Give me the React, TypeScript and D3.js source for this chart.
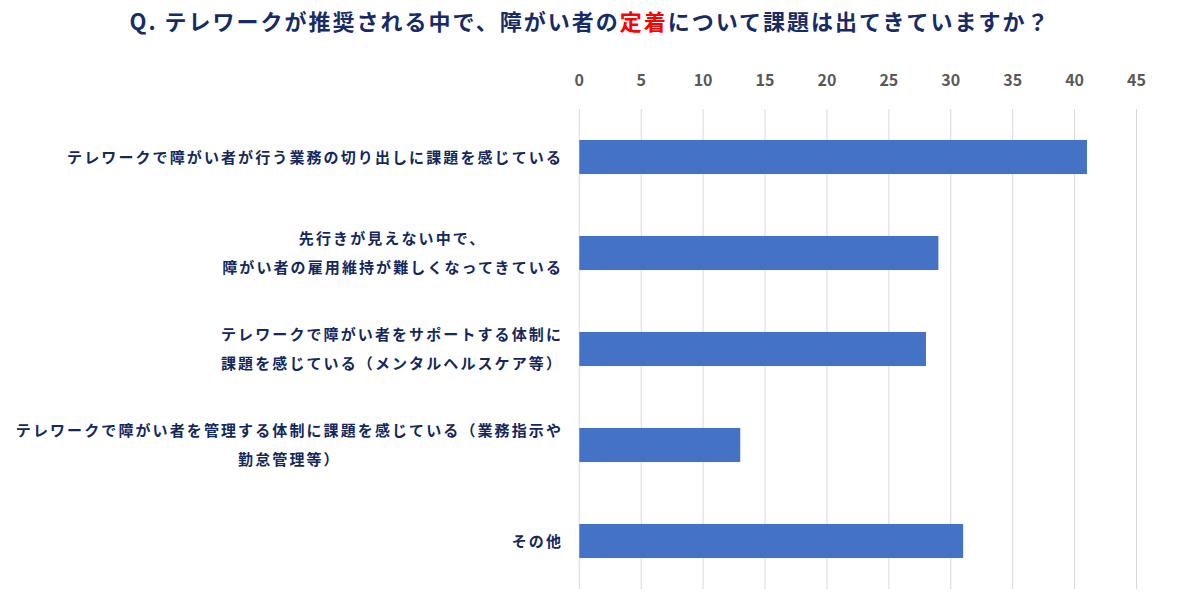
import React, { useEffect, useRef } from "react";
import * as d3 from "d3";

const categories: string[][] = [
  ["テレワークで障がい者が行う業務の切り出しに課題を感じている"],
  ["先行きが見えない中で、", "障がい者の雇用維持が難しくなってきている"],
  ["テレワークで障がい者をサポートする体制に", "課題を感じている（メンタルヘルスケア等）"],
  ["テレワークで障がい者を管理する体制に課題を感じている（業務指示や", "勤怠管理等）"],
  ["その他"],
];
const values: number[] = [41, 29, 28, 13, 31];
const tickValues: number[] = [0, 5, 10, 15, 20, 25, 30, 35, 40, 45];
const titleParts: { text: string; red: boolean }[] = [
  { text: "Q. テレワークが推奨される中で、障がい者の", red: false },
  { text: "定着", red: true },
  { text: "について課題は出てきていますか？", red: false },
];

const W = 1195;
const H = 604;
const FONT = "'Noto Sans CJK JP', 'Noto Sans', sans-serif";
const NAVY = "#13285c";

export default function App() {
  const ref = useRef<SVGSVGElement | null>(null);

  useEffect(() => {
    const svg = d3.select(ref.current);
    svg.selectAll("*").remove();

    const x = d3.scaleLinear().domain([0, 45]).range([579.3, 1136.5]);
    const y = d3
      .scaleBand<number>()
      .domain(values.map((_, i) => i))
      .range([109, 589])
      .paddingInner(0.645)
      .paddingOuter(0.3225);

    // title
    const title = svg
      .append("text")
      .attr("x", 590)
      .attr("y", 30)
      .attr("text-anchor", "middle")
      .attr("font-family", FONT)
      .attr("font-weight", 700)
      .attr("font-size", 22)
      .attr("letter-spacing", 2)
      .attr("fill", "#172c66");
    titleParts.forEach((p) => {
      title
        .append("tspan")
        .attr("fill", p.red ? "#ff0000" : "#172c66")
        .text(p.text);
    });

    // gridlines
    svg
      .append("g")
      .selectAll("line")
      .data(tickValues)
      .join("line")
      .attr("x1", (d) => x(d))
      .attr("x2", (d) => x(d))
      .attr("y1", 109)
      .attr("y2", 589)
      .attr("stroke", "#d9d9d9")
      .attr("stroke-width", 1);

    // tick labels
    svg
      .append("g")
      .selectAll("text")
      .data(tickValues)
      .join("text")
      .attr("x", (d) => x(d))
      .attr("y", 86)
      .attr("text-anchor", "middle")
      .attr("font-family", FONT)
      .attr("font-weight", 700)
      .attr("font-size", 16)
      .attr("fill", "#595959")
      .text((d) => String(d));

    // bars
    svg
      .append("g")
      .selectAll("rect")
      .data(values)
      .join("rect")
      .attr("x", x(0))
      .attr("y", (_, i) => y(i)!)
      .attr("width", (d) => x(d) - x(0))
      .attr("height", y.bandwidth())
      .attr("fill", "#4472c4");

    // category labels
    const right = 563;
    const lineH = 29;
    categories.forEach((lines, i) => {
      const cy = y(i)! + y.bandwidth() / 2;
      const g = svg.append("g");
      const texts = lines.map((ln, j) =>
        g
          .append("text")
          .attr("y", cy + (j - (lines.length - 1) / 2) * lineH + 5.5)
          .attr("text-anchor", "middle")
          .attr("font-family", FONT)
          .attr("font-weight", 700)
          .attr("font-size", 15)
          .attr("letter-spacing", 2.1)
          .attr("fill", NAVY)
          .text(ln)
      );
      const widths = texts.map((t) => (t.node() as SVGTextElement).getComputedTextLength());
      const maxW = Math.max(...widths);
      texts.forEach((t) => t.attr("x", right - maxW / 2));
    });
  }, []);

  return (
    <svg
      ref={ref}
      width={W}
      height={H}
      style={{ position: "absolute", left: 0, top: 0, background: "#fff" }}
    />
  );
}
